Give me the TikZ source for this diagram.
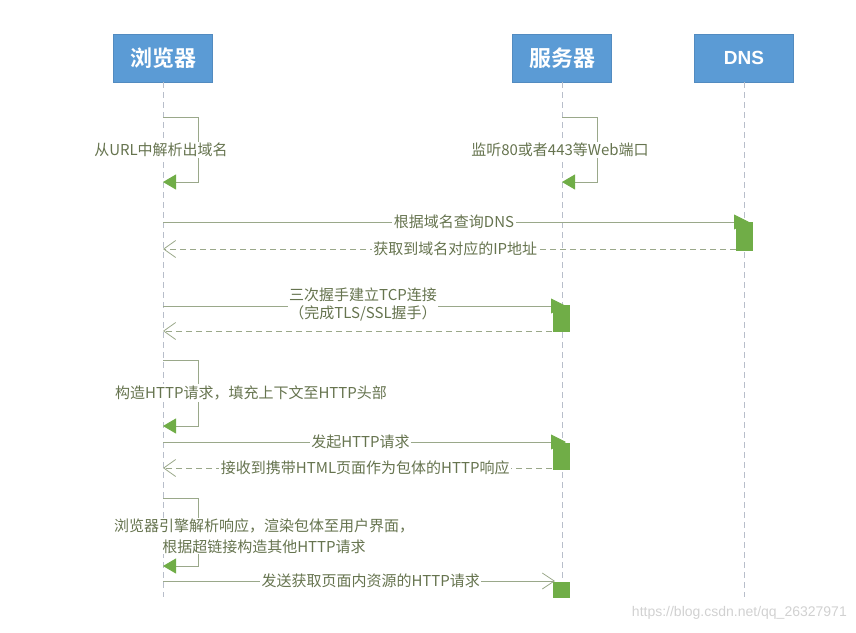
\documentclass[tikz,border=0pt]{standalone}
\usepackage{fontspec}
\setmainfont{Noto Sans CJK SC}
\newfontfamily\cjkb{Noto Sans CJK SC Bold}
\newfontfamily\urlfont{Liberation Sans}
\usetikzlibrary{arrows.meta}
\definecolor{boxblue}{HTML}{5B9BD5}
\definecolor{actgreen}{HTML}{70AD47}
\definecolor{msgline}{HTML}{9AA88A}
\definecolor{msgtext}{HTML}{66744F}
\definecolor{lifegray}{HTML}{B8BECA}
\tikzset{
  actor/.style={draw=boxblue!90!black, fill=boxblue, minimum width=99pt, minimum height=48pt, inner sep=0pt, text=white, font=\cjkb\fontsize{22}{22}\selectfont},
  lifeline/.style={draw=lifegray, line width=0.9pt, dash pattern=on 6pt off 4pt},
  actbox/.style={fill=actgreen, draw=none},
  msg/.style={draw=msgline, line width=0.9pt, -{Triangle[length=15pt,width=15pt,fill=actgreen,color=actgreen]}},
  msgopen/.style={draw=msgline, line width=0.9pt, -{Straight Barb[length=12pt,width=16pt,line width=0.8pt]}},
  ret/.style={draw=msgline, line width=0.9pt, dash pattern=on 6pt off 4pt, -{Straight Barb[length=12pt,width=17pt,line width=0.8pt]}},
  selfloop/.style={draw=msgline, line width=0.9pt, -{Triangle[length=13pt,width=15pt,fill=actgreen,color=actgreen]}},
  lbl/.style={fill=white, inner sep=1.5pt, text=msgtext, font=\fontsize{15}{19}\selectfont, align=center},
}
\begin{document}
\begin{tikzpicture}[x=1pt,y=-1pt]
\useasboundingbox (0,0) rectangle (856,632);
% actors
\node[actor] (br) at (163,58) {浏览器};
\node[actor] (sv) at (562,58) {服务器};
\node[actor, font=\urlfont\bfseries\fontsize{19}{19}\selectfont] (dns) at (744,58) {DNS};
% lifelines
\coordinate (brE) at (163,597);
\coordinate (svE) at (562,597);
\coordinate (dnsE) at (744,597);
\draw[lifeline] (br.south) -- (brE);
\draw[lifeline] (sv.south) -- (svE);
\draw[lifeline] (dns.south) -- (dnsE);
% activation boxes
\node[actbox, minimum width=17pt, minimum height=29pt, inner sep=0pt] (a1) at (744.5,236) {};
\node[actbox, minimum width=17pt, minimum height=27pt, inner sep=0pt] (a2) at (561,318.5) {};
\node[actbox, minimum width=17pt, minimum height=27pt, inner sep=0pt] (a3) at (561,456.5) {};
\node[actbox, minimum width=17pt, minimum height=16pt, inner sep=0pt] (a4) at (561.5,589.5) {};
% self loop 1
\coordinate (s1a) at (163,117);
\coordinate (s1b) at (198,117);
\coordinate (s1c) at (198,182);
\coordinate (s1d) at (163,182);
\draw[selfloop] (s1a) -- (s1b) -- (s1c) -- (s1d);
\node[lbl] (l1) at (161,150) {从URL中解析出域名};
% server self loop
\coordinate (s2a) at (562,117);
\coordinate (s2b) at (597,117);
\coordinate (s2c) at (597,182);
\coordinate (s2d) at (562,182);
\draw[selfloop] (s2a) -- (s2b) -- (s2c) -- (s2d);
\node[lbl] (l2) at (560,150) {监听80或者443等Web端口};
% DNS query
\coordinate (m1s) at (163,222);
\coordinate (m1e) at (749,222);
\draw[msg] (m1s) -- (m1e) node[lbl, pos=0.5, xshift=-2pt] (l3) {根据域名查询DNS};
\coordinate (r1s) at (736,249);
\coordinate (r1e) at (163,249);
\draw[ret] (r1s) -- (r1e) node[lbl, pos=0.49] (l4) {获取到域名对应的IP地址};
% TCP
\coordinate (m2s) at (163,306);
\coordinate (m2e) at (566,306);
\draw[msg] (m2s) -- (m2e);
\node[lbl, inner sep=1pt, font=\fontsize{15}{18}\selectfont] (l5) at (363,304) {三次握手建立TCP连接\\（完成TLS/SSL握手）};
\coordinate (r2s) at (552,331);
\coordinate (r2e) at (163,331);
\draw[ret] (r2s) -- (r2e);
% self loop 3
\coordinate (s3a) at (163,360);
\coordinate (s3b) at (198,360);
\coordinate (s3c) at (198,426);
\coordinate (s3d) at (163,426);
\draw[selfloop] (s3a) -- (s3b) -- (s3c) -- (s3d);
\node[lbl] (l6) at (251,393) {构造HTTP请求，填充上下文至HTTP头部};
% HTTP request
\coordinate (m3s) at (163,442);
\coordinate (m3e) at (566,442);
\draw[msg] (m3s) -- (m3e) node[lbl, pos=0.49] (l7) {发起HTTP请求};
\coordinate (r3s) at (552,468);
\coordinate (r3e) at (163,468);
\draw[ret] (r3s) -- (r3e) node[lbl, pos=0.48] (l8) {接收到携带HTML页面作为包体的HTTP响应};
% self loop 4
\coordinate (s4a) at (163,498);
\coordinate (s4b) at (198,498);
\coordinate (s4c) at (198,566);
\coordinate (s4d) at (163,566);
\draw[selfloop] (s4a) -- (s4b) -- (s4c) -- (s4d);
\node[lbl, inner sep=1pt, font=\fontsize{15}{21}\selectfont] (l9) at (264,536) {浏览器引擎解析响应，渲染包体至用户界面，\\根据超链接构造其他HTTP请求};
% last request
\coordinate (m4s) at (163,581);
\coordinate (m4e) at (555,581);
\draw[msgopen] (m4s) -- (m4e) node[lbl, pos=0.53] (l10) {发送获取页面内资源的HTTP请求};
% watermark
\node[text=black!18, font=\urlfont\fontsize{14}{14}\selectfont, anchor=east, inner sep=0pt] (wm) at (847,613) {https://blog.csdn.net/qq\_26327971};
\end{tikzpicture}
\end{document}
